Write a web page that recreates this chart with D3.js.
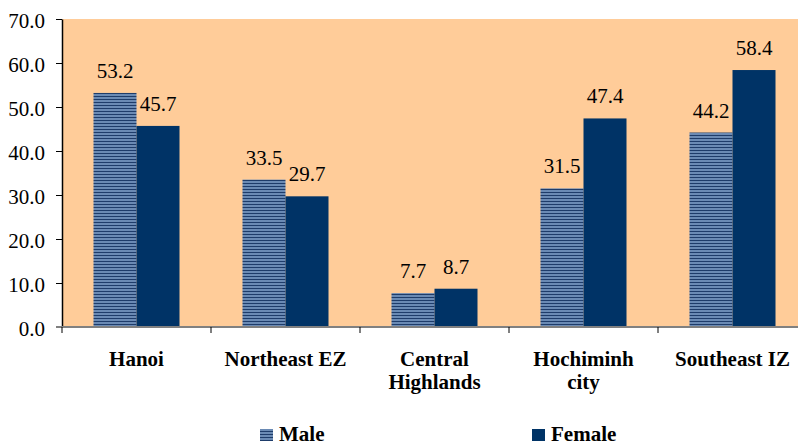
<!DOCTYPE html>
<html>
<head>
<meta charset="utf-8">
<script src="https://cdn.jsdelivr.net/npm/d3@7"></script>
<style>
  html, body { margin: 0; padding: 0; background: #fff; }
  svg { display: block; }
  svg text { font-family: 'Liberation Serif', 'DejaVu Serif', serif; fill: #000; }
</style>
</head>
<body>
<svg id="chart" width="798" height="445"></svg>
<script>
// Regions (two-line labels split on "\n")
const categories = ["Hanoi", "Northeast EZ", "Central\nHighlands", "Hochiminh\ncity", "Southeast IZ"];
const seriesNames = ["Male", "Female"];
const maleValues = [53.2, 33.5, 7.7, 31.5, 44.2];
const femaleValues = [45.7, 29.7, 8.7, 47.4, 58.4];
const yTicks = [0, 10, 20, 30, 40, 50, 60, 70];

const FONT = "'Liberation Serif', 'DejaVu Serif', serif";
const svg = d3.select("#chart");
const margin = { left: 62, top: 19 };
const plotW = 745, plotH = 308;

// horizontal stripe fill for the Male series
const defs = svg.append("defs");
const pat = defs.append("pattern")
  .attr("id", "maleStripes")
  .attr("patternUnits", "userSpaceOnUse")
  .attr("width", 8).attr("height", 3);
pat.append("rect").attr("width", 8).attr("height", 3).attr("fill", "#6a8ab4");
pat.append("rect").attr("y", 2).attr("width", 8).attr("height", 1).attr("fill", "#1e3c6a");

const fills = { Male: "url(#maleStripes)", Female: "#003366" };

const x = d3.scaleBand().domain(categories).range([0, plotW]).paddingInner(0).paddingOuter(0);
const xSub = d3.scaleBand().domain(seriesNames).range([0, 86]);
const y = d3.scaleLinear().domain([0, 70]).range([plotH, 0]);

const g = svg.append("g").attr("transform", `translate(${margin.left},${margin.top})`);

// plot background
g.append("rect").attr("width", plotW).attr("height", plotH).attr("fill", "#ffcc99");

const rows = categories.map((c, i) => ({ cat: c, vals: [
  { s: "Male", v: maleValues[i] },
  { s: "Female", v: femaleValues[i] }
]}));

const groups = g.selectAll(".grp").data(rows).join("g")
  .attr("class", "grp")
  .attr("transform", d => `translate(${x(d.cat) + x.bandwidth() / 2 - 43},0)`);

groups.selectAll("rect").data(d => d.vals).join("rect")
  .attr("x", d => xSub(d.s))
  .attr("y", d => y(d.v))
  .attr("width", xSub.bandwidth())
  .attr("height", d => plotH - y(d.v))
  .attr("fill", d => fills[d.s]);

groups.selectAll("text.val").data(d => d.vals).join("text")
  .attr("class", "val")
  .attr("x", d => xSub(d.s) + xSub.bandwidth() / 2)
  .attr("y", d => y(d.v) - 15)
  .attr("text-anchor", "middle")
  .style("font-family", FONT)
  .style("font-size", "21px")
  .text(d => d.v.toFixed(1));

// y axis
const yAxis = g.append("g").call(
  d3.axisLeft(y).tickValues(yTicks).tickFormat(d3.format(".1f")).tickSize(6).tickSizeOuter(0)
);
yAxis.attr("font-family", null).attr("font-size", null);
yAxis.select(".domain").attr("stroke", "#000").attr("stroke-width", 1.5);
yAxis.selectAll(".tick line").attr("stroke", "#000");
yAxis.selectAll(".tick text")
  .style("font-family", FONT)
  .style("font-size", "21px")
  .attr("x", -17)
  .attr("dy", "0.4em");

// x axis
const xAxis = g.append("g").attr("transform", `translate(0,${plotH})`).call(
  d3.axisBottom(x).tickSize(6).tickSizeOuter(0).tickFormat("")
);
xAxis.select(".domain").attr("stroke", "#808080").attr("stroke-width", 2)
  .attr("d", `M-6,0H${plotW}`);
xAxis.selectAll(".tick").attr("transform", d => `translate(${x(d)},0)`);
xAxis.selectAll(".tick line").attr("stroke", "#000");

// category labels
const catLabels = g.selectAll(".cat").data(categories).join("text")
  .attr("class", "cat")
  .attr("text-anchor", "middle")
  .style("font-family", FONT)
  .style("font-weight", "bold")
  .style("font-size", "21px")
  .attr("transform", d => `translate(${x(d) + x.bandwidth() / 2},${plotH + 39})`);
catLabels.each(function(d) {
  const t = d3.select(this);
  d.split("\n").forEach((line, i) => {
    t.append("tspan").attr("x", 0).attr("y", i * 23).text(line);
  });
});

// legend
const legend = svg.append("g");
const legendItems = [
  { s: "Male", x: 260 },
  { s: "Female", x: 532 }
];
legendItems.forEach(it => {
  legend.append("rect").attr("x", it.x).attr("y", 429).attr("width", 13).attr("height", 12)
    .attr("fill", fills[it.s]);
  legend.append("text").attr("x", it.x + 19).attr("y", 441)
    .style("font-family", FONT)
    .style("font-weight", "bold").style("font-size", "21px").text(it.s);
});
</script>
</body>
</html>
